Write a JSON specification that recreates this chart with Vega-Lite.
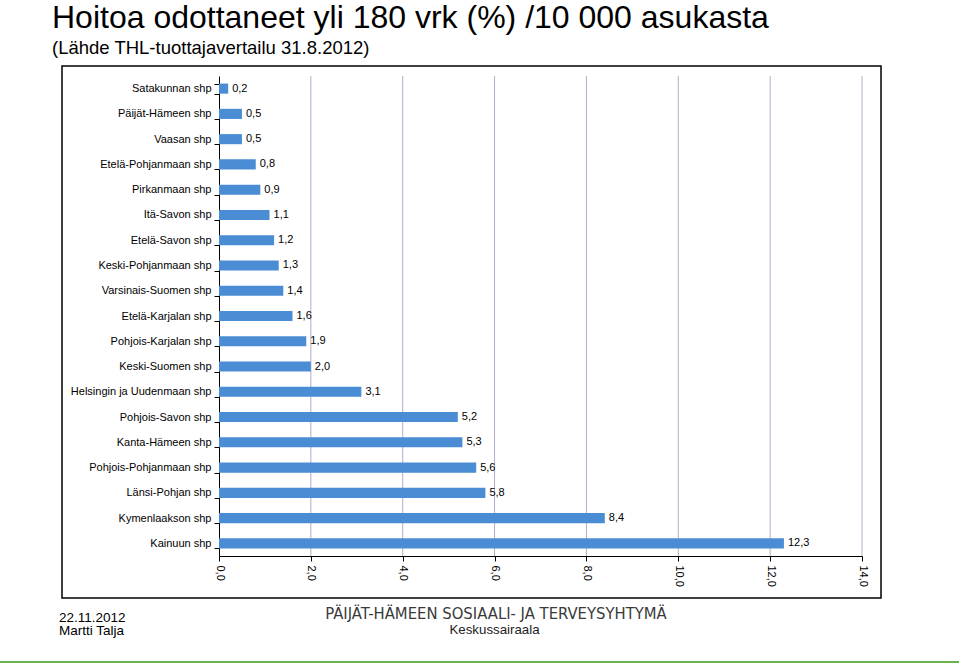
{
  "$schema": "https://vega.github.io/schema/vega-lite/v6.json",
  "padding": 0,
  "autosize": {"type": "pad"},
  "background": "white",
  "config": {
    "font": "Liberation Sans",
    "locale": {"number": {"decimal": ",", "thousands": " ", "grouping": [3], "currency": ["", " €"]}},
    "view": {"stroke": null}
  },
  "datasets": {
    "shp": [
      {"name": "Satakunnan shp", "value": 0.2},
      {"name": "Päijät-Hämeen shp", "value": 0.5},
      {"name": "Vaasan shp", "value": 0.5},
      {"name": "Etelä-Pohjanmaan shp", "value": 0.8},
      {"name": "Pirkanmaan shp", "value": 0.9},
      {"name": "Itä-Savon shp", "value": 1.1},
      {"name": "Etelä-Savon shp", "value": 1.2},
      {"name": "Keski-Pohjanmaan shp", "value": 1.3},
      {"name": "Varsinais-Suomen shp", "value": 1.4},
      {"name": "Etelä-Karjalan shp", "value": 1.6},
      {"name": "Pohjois-Karjalan shp", "value": 1.9},
      {"name": "Keski-Suomen shp", "value": 2.0},
      {"name": "Helsingin ja Uudenmaan shp", "value": 3.1},
      {"name": "Pohjois-Savon shp", "value": 5.2},
      {"name": "Kanta-Hämeen shp", "value": 5.3},
      {"name": "Pohjois-Pohjanmaan shp", "value": 5.6},
      {"name": "Länsi-Pohjan shp", "value": 5.8},
      {"name": "Kymenlaakson shp", "value": 8.4},
      {"name": "Kainuun shp", "value": 12.3}
    ],
    "grid": [{"g": 2}, {"g": 4}, {"g": 6}, {"g": 8}, {"g": 10}, {"g": 12}, {"g": 14}]
  },
  "vconcat": [
    {
      "hconcat": [
        {
          "width": 62,
          "height": 532,
          "view": {"stroke": null},
          "data": {"values": []},
          "mark": "point",
          "encoding": {},
          "title": {
            "text": ["22.11.2012", "Martti Talja"],
            "orient": "bottom",
            "anchor": "start",
            "frame": "group",
            "dx": 59,
            "offset": 13,
            "fontSize": 13.5,
            "fontWeight": "normal",
            "color": "#000000",
            "lineHeight": 13.4,
            "baseline": "top"
          }
        },
        {
          "width": 819,
          "height": 532,
          "view": {"stroke": "#000000", "strokeWidth": 1.5},
          "title": {
            "text": "Hoitoa odottaneet yli 180 vrk (%) /10 000 asukasta",
            "subtitle": "(Lähde THL-tuottajavertailu 31.8.2012)",
            "anchor": "start",
            "frame": "group",
            "dx": -10,
            "fontSize": 32,
            "fontWeight": "normal",
            "color": "#000000",
            "subtitleFontSize": 18.5,
            "subtitleColor": "#000000",
            "subtitlePadding": 4,
            "offset": 2
          },
          "layer": [
            {
              "data": {"name": "grid"},
              "mark": {"type": "rule", "color": "#b5aac9", "strokeWidth": 1, "yOffset": -12.63, "y2Offset": 12.63},
              "encoding": {
                "x": {"field": "g", "type": "quantitative"},
                "y": {"datum": "Satakunnan shp", "type": "nominal"},
                "y2": {"datum": "Kainuun shp"}
              }
            },
            {
              "data": {"name": "shp"},
              "mark": {"type": "bar", "color": "#4a8dd4"},
              "encoding": {
                "x": {
                  "field": "value",
                  "type": "quantitative",
                  "scale": {"domain": [0, 14], "range": [157, 800], "nice": false, "zero": true},
                  "axis": {
                    "orient": "bottom",
                    "offset": -42,
                    "values": [0, 2, 4, 6, 8, 10, 12, 14],
                    "format": ".1f",
                    "labelAngle": 90,
                    "labelFontSize": 11,
                    "labelColor": "#000000",
                    "labelPadding": 4,
                    "labelOverlap": false,
                    "labelFlush": false,
                    "tickSize": 5,
                    "tickColor": "#000000",
                    "domainColor": "#000000",
                    "grid": false,
                    "title": "PÄIJÄT-HÄMEEN SOSIAALI- JA TERVEYSYHTYMÄ",
                    "titleX": 433.5,
                    "titleY": 62.5,
                    "titleAlign": "center",
                    "titleBaseline": "alphabetic",
                    "titleFont": "Liberation Sans Narrow, DejaVu Sans Condensed, Liberation Sans",
                    "titleFontSize": 16.5,
                    "titleFontWeight": "normal",
                    "titleColor": "#3a3a3a"
                  }
                },
                "y": {
                  "field": "name",
                  "type": "nominal",
                  "sort": null,
                  "scale": {
                    "domain": ["Satakunnan shp", "Päijät-Hämeen shp", "Vaasan shp", "Etelä-Pohjanmaan shp", "Pirkanmaan shp", "Itä-Savon shp", "Etelä-Savon shp", "Keski-Pohjanmaan shp", "Varsinais-Suomen shp", "Etelä-Karjalan shp", "Pohjois-Karjalan shp", "Keski-Suomen shp", "Helsingin ja Uudenmaan shp", "Pohjois-Savon shp", "Kanta-Hämeen shp", "Pohjois-Pohjanmaan shp", "Länsi-Pohjan shp", "Kymenlaakson shp", "Kainuun shp"],
                    "range": [10, 490],
                    "paddingInner": 0.6,
                    "paddingOuter": 0.3
                  },
                  "axis": {
                    "orient": "left",
                    "offset": -157,
                    "tickBand": "extent",
                    "tickSize": 5,
                    "tickColor": "#000000",
                    "domainColor": "#000000",
                    "labelFontSize": 11,
                    "labelColor": "#000000",
                    "labelPadding": 3,
                    "labelLimit": 0,
                    "grid": false,
                    "title": "Keskussairaala",
                    "titleAngle": 0,
                    "titleX": 275,
                    "titleY": 567.5,
                    "titleAlign": "center",
                    "titleBaseline": "alphabetic",
                    "titleFontSize": 13.3,
                    "titleFontWeight": "normal",
                    "titleColor": "#222222"
                  }
                }
              }
            },
            {
              "data": {"name": "shp"},
              "mark": {"type": "text", "align": "left", "baseline": "middle", "dx": 4, "fontSize": 11, "color": "#000000"},
              "encoding": {
                "x": {"field": "value", "type": "quantitative"},
                "y": {"field": "name", "type": "nominal", "sort": null},
                "text": {"field": "value", "type": "quantitative", "format": ".1f"}
              }
            }
          ]
        }
      ],
      "spacing": 0,
      "bounds": "flush"
    },
    {
      "width": 959,
      "height": 6,
      "view": {"fill": "#6cb24c", "stroke": null},
      "data": {"values": []},
      "mark": "point",
      "encoding": {}
    }
  ],
  "spacing": 23,
  "bounds": "full"
}
